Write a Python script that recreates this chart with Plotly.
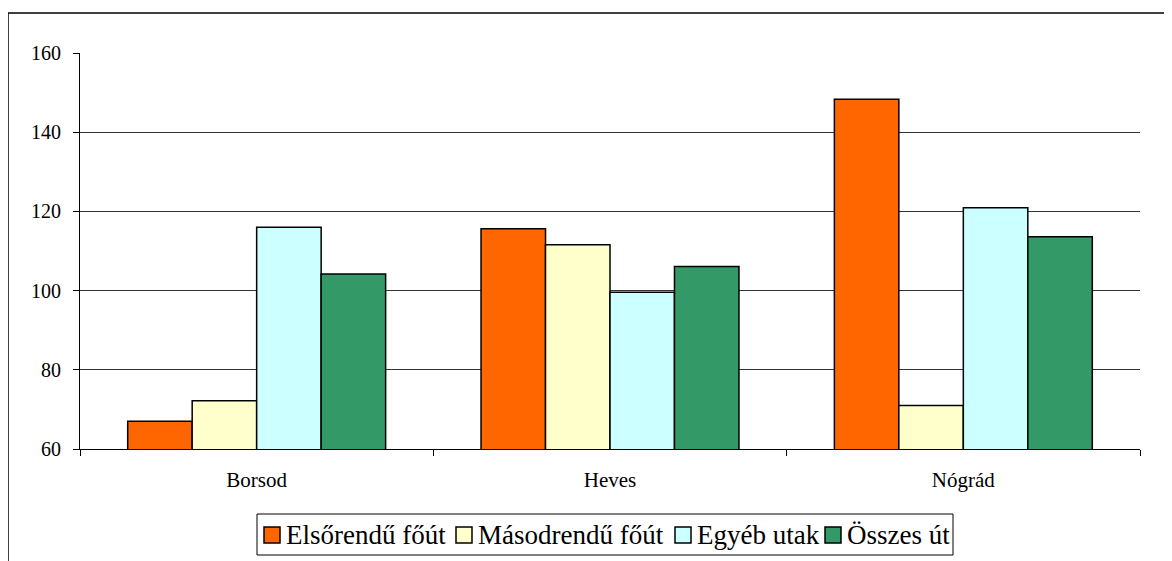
import plotly.graph_objects as go

regions = ['Borsod', 'Heves', 'Nógrád']
elsorendu = [67.0, 115.6, 148.3]
masodrendu = [72.2, 111.6, 71.0]
egyeb = [116.0, 99.6, 120.9]
osszes = [104.2, 106.1, 113.6]

series = [
    ('Elsőrendű főút', elsorendu, '#FF6600'),
    ('Másodrendű főút', masodrendu, '#FFFFCC'),
    ('Egyéb utak', egyeb, '#CCFFFF'),
    ('Összes út', osszes, '#339966'),
]

# plot area in figure pixels (page adds 8px body margin)
L, R, T, B = 72, 40, 45, 120
W, H = 1172, 561
pw, ph = W - L - R, H - T - B


def px(x):  # page x -> paper x
    return (x - 8 - L) / pw


def py(y):  # page y -> paper y
    return (H - B - (y - 8)) / ph


fig = go.Figure()
for name, vals, col in series:
    fig.add_trace(go.Bar(
        x=regions, y=vals, name=name, showlegend=False,
        marker=dict(color=col, line=dict(color='black', width=1.5))))

# outer chart frame (open on right/bottom like the source crop)
fig.add_shape(type='rect', xref='paper', yref='paper',
              x0=px(8), x1=px(1300), y0=py(700), y1=py(13),
              line=dict(color='black', width=1.5), layer='below')

# legend box drawn by hand to match the Excel style
fig.add_shape(type='rect', xref='paper', yref='paper',
              x0=px(257), x1=px(953), y0=py(555), y1=py(514),
              line=dict(color='black', width=1), fillcolor='white')
swatch_x = [264, 456, 675, 825]
for (name, vals, col), sx in zip(series, swatch_x):
    fig.add_shape(type='rect', xref='paper', yref='paper',
                  x0=px(sx), x1=px(sx + 16), y0=py(543), y1=py(527),
                  line=dict(color='black', width=1.5), fillcolor=col)
    fig.add_annotation(text=name, xref='paper', yref='paper',
                       x=px(sx + 20), y=py(535), xanchor='left', yanchor='middle',
                       showarrow=False, font=dict(size=27, family='Liberation Serif'))

fig.update_layout(
    width=W, height=H,
    margin=dict(l=L, r=R, t=T, b=B),
    paper_bgcolor='white', plot_bgcolor='white',
    font=dict(family='Liberation Serif', color='black'),
    barmode='group', bargap=0.27, bargroupgap=0,
    showlegend=False,
    xaxis=dict(showline=True, linecolor='black', linewidth=1,
               ticks='outside', ticklen=6, tickcolor='black',
               tickson='boundaries', tickfont=dict(size=21),
               ticklabelstandoff=12, automargin=False),
    yaxis=dict(range=[60, 160], dtick=20, showline=True, linecolor='black',
               linewidth=1, ticks='outside', ticklen=6, tickcolor='black',
               showgrid=True, gridcolor='#333333', gridwidth=1,
               tickfont=dict(size=20), ticklabelstandoff=8,
               zeroline=False, automargin=False),
)

fig.write_html('out.html')
